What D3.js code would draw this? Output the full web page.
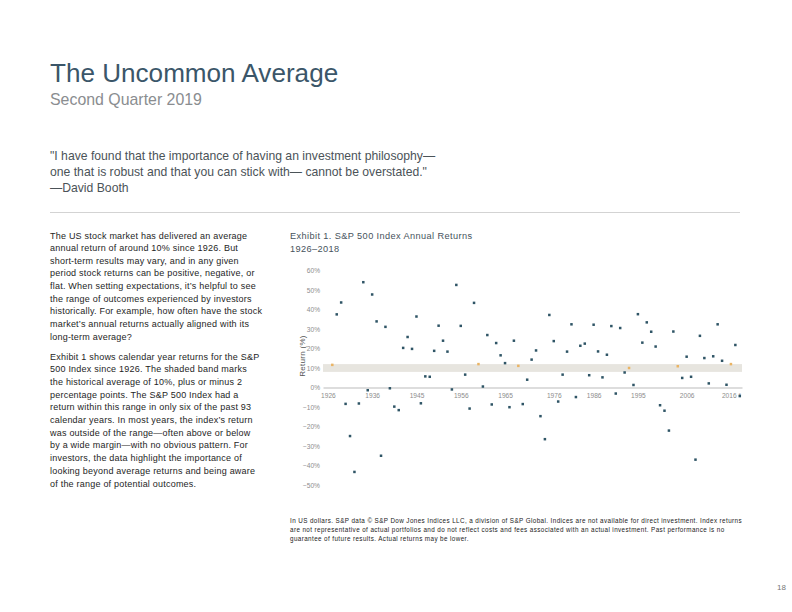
<!DOCTYPE html>
<html>
<head>
<meta charset="utf-8">
<script src="https://cdn.jsdelivr.net/npm/d3@7"></script>
<style>
  body { margin: 0; background: #fff; }
  svg { display: block; font-family: "Liberation Sans", Arial, sans-serif; }
</style>
</head>
<body>
<div id="page"></div>
<script>
// Calendar years shown in the exhibit
const years = [1926, 1927, 1928, 1929, 1930, 1931, 1932, 1933, 1934, 1935,
  1936, 1937, 1938, 1939, 1940, 1941, 1942, 1943, 1944, 1945,
  1946, 1947, 1948, 1949, 1950, 1951, 1952, 1953, 1954, 1955,
  1956, 1957, 1958, 1959, 1960, 1961, 1962, 1963, 1964, 1965,
  1966, 1967, 1968, 1969, 1970, 1971, 1972, 1973, 1974, 1975,
  1976, 1977, 1978, 1979, 1980, 1981, 1982, 1983, 1984, 1985,
  1986, 1987, 1988, 1989, 1990, 1991, 1992, 1993, 1994, 1995,
  1996, 1997, 1998, 1999, 2000, 2001, 2002, 2003, 2004, 2005,
  2006, 2007, 2008, 2009, 2010, 2011, 2012, 2013, 2014, 2015,
  2016, 2017, 2018];

// Annual return (%) for each year
const returns = [11.6, 37.5, 43.6, -8.4, -24.9, -43.3, -8.2, 54.0, -1.4, 47.7,
  33.9, -35.0, 31.1, -0.4, -9.8, -11.6, 20.3, 25.9, 19.8, 36.4,
  -8.1, 5.7, 5.5, 18.8, 31.7, 24.0, 18.4, -1.0, 52.6, 31.6,
  6.6, -10.8, 43.4, 12.0, 0.5, 26.9, -8.7, 22.8, 16.5, 12.5,
  -10.1, 24.0, 11.1, -8.5, 4.0, 14.3, 19.0, -14.7, -26.5, 37.2,
  23.8, -7.2, 6.6, 18.4, 32.4, -4.9, 21.4, 22.5, 6.3, 32.2,
  18.5, 5.2, 16.8, 31.5, -3.1, 30.5, 7.7, 10.0, 1.3, 37.6,
  23.0, 33.4, 28.6, 21.0, -9.1, -11.9, -22.1, 28.7, 10.9, 4.9,
  15.8, 5.5, -37.0, 26.5, 15.1, 2.1, 16.0, 32.4, 13.7, 1.4,
  12.0, 21.8, -4.4];

// Shaded band: historical average 10% plus or minus 2 points
const bandLow = 8;
const bandHigh = 12;

const yTicks = [60, 50, 40, 30, 20, 10, 0, -10, -20, -30, -40, -50];
const xTickYears = [1925, 1935, 1945, 1955, 1965, 1976, 1985, 1995, 2006, 2016];
const xTickLabels = ["1926", "1936", "1945", "1956", "1965", "1976", "1986", "1995", "2006", "2016 *"];

const quoteLines = [
  "\"I have found that the importance of having an investment philosophy\u2014",
  "one that is robust and that you can stick with\u2014 cannot be overstated.\"",
  "\u2014David Booth"
];

const para1 = [
  "The US stock market has delivered an average",
  "annual return of around 10% since 1926. But",
  "short-term results may vary, and in any given",
  "period stock returns can be positive, negative, or",
  "flat. When setting expectations, it\u2019s helpful to see",
  "the range of outcomes experienced by investors",
  "historically. For example, how often have the stock",
  "market\u2019s annual returns actually aligned with its",
  "long-term average?"
];

const para2 = [
  "Exhibit 1 shows calendar year returns for the S&P",
  "500 Index since 1926. The shaded band marks",
  "the historical average of 10%, plus or minus 2",
  "percentage points. The S&P 500 Index had a",
  "return within this range in only six of the past 93",
  "calendar years. In most years, the index\u2019s return",
  "was outside of the range\u2014often above or below",
  "by a wide margin\u2014with no obvious pattern. For",
  "investors, the data highlight the importance of",
  "looking beyond average returns and being aware",
  "of the range of potential outcomes."
];

const footLines = [
  "In US dollars. S&P data \u00a9 S&P Dow Jones Indices LLC, a division of S&P Global. Indices are not available for direct investment. Index returns",
  "are not representative of actual portfolios and do not reflect costs and fees associated with an actual investment. Past performance is no",
  "guarantee of future results. Actual returns may be lower."
];

const width = 792;
const height = 612;

const svg = d3.select("#page")
  .append("svg")
  .attr("width", width)
  .attr("height", height);

// Header
svg.append("text")
  .attr("x", 50).attr("y", 82)
  .attr("font-size", 26.1)
  .attr("fill", "#3b5669")
  .text("The Uncommon Average");

svg.append("text")
  .attr("x", 50).attr("y", 105)
  .attr("font-size", 15.9)
  .attr("fill", "#8a8d90")
  .text("Second Quarter 2019");

svg.selectAll(".quote")
  .data(quoteLines)
  .enter()
  .append("text")
  .attr("class", "quote")
  .attr("x", 50)
  .attr("y", (d, i) => 159.5 + i * 16.3)
  .attr("font-size", 12.2)
  .attr("fill", "#4b5358")
  .text(d => d);

svg.append("line")
  .attr("x1", 50).attr("x2", 740)
  .attr("y1", 212.5).attr("y2", 212.5)
  .attr("stroke", "#c8c8c8")
  .attr("stroke-width", 0.8);

// Left column text
svg.selectAll(".p1")
  .data(para1)
  .enter()
  .append("text")
  .attr("class", "p1")
  .attr("x", 50)
  .attr("y", (d, i) => 238.5 + i * 12.65)
  .attr("font-size", 9)
  .attr("letter-spacing", 0.22)
  .attr("fill", "#1e1e1e")
  .text(d => d);

svg.selectAll(".p2")
  .data(para2)
  .enter()
  .append("text")
  .attr("class", "p2")
  .attr("x", 50)
  .attr("y", (d, i) => 359.5 + i * 12.7)
  .attr("font-size", 9)
  .attr("letter-spacing", 0.22)
  .attr("fill", "#1e1e1e")
  .text(d => d);

// Exhibit title
svg.append("text")
  .attr("x", 290).attr("y", 239)
  .attr("font-size", 9.2)
  .attr("letter-spacing", 0.4)
  .attr("fill", "#46525c")
  .text("Exhibit 1. S&P 500 Index Annual Returns");

svg.append("text")
  .attr("x", 290).attr("y", 251.5)
  .attr("font-size", 9.2)
  .attr("letter-spacing", 0.4)
  .attr("fill", "#46525c")
  .text("1926\u20132018");

// Scales
const x = d3.scaleLinear()
  .domain([1923.9, 2018.5])
  .range([323, 742]);

const y = d3.scaleLinear()
  .domain([-50, 60])
  .range([485, 270.5]);

const chart = svg.append("g");

// Band
chart.append("rect")
  .attr("x", x.range()[0])
  .attr("width", x.range()[1] - x.range()[0])
  .attr("y", y(bandHigh))
  .attr("height", y(bandLow) - y(bandHigh))
  .attr("fill", "#e7e5df");

// Y tick labels (no axis line)
const yAxis = d3.axisLeft(y)
  .tickValues(yTicks)
  .tickSize(0)
  .tickPadding(0)
  .tickFormat(d => (d < 0 ? "\u2212" + Math.abs(d) : d) + "%");

chart.append("g")
  .attr("transform", "translate(320,0)")
  .call(yAxis)
  .call(g => g.select(".domain").remove())
  .call(g => g.selectAll("text")
    .attr("font-family", "'Liberation Sans Narrow', 'Liberation Sans', sans-serif")
    .attr("font-size", 6.6)
    .attr("fill", "#8d8d8d"));

// X axis at 0%
const xAxis = d3.axisBottom(x)
  .tickValues(xTickYears)
  .tickSize(0)
  .tickPadding(6)
  .tickFormat((d, i) => xTickLabels[i]);

chart.append("g")
  .attr("transform", `translate(0,${y(0)})`)
  .call(xAxis)
  .call(g => g.select(".domain").attr("stroke", "#a9a9a9").attr("stroke-width", 0.8))
  .call(g => g.selectAll("text")
    .attr("font-family", "'Liberation Sans Narrow', 'Liberation Sans', sans-serif")
    .attr("font-size", 6.6)
    .attr("fill", "#8d8d8d"));

// Y axis title
svg.append("text")
  .attr("transform", `translate(305,${y(10) - 12}) rotate(-90)`)
  .attr("text-anchor", "middle")
  .attr("font-size", 8)
  .attr("letter-spacing", 0.3)
  .attr("fill", "#555")
  .text("Return (%)");

// Points
const pts = years.map((yr, i) => ({ year: yr, value: returns[i] }));
const size = 2.5;

chart.selectAll(".pt")
  .data(pts)
  .enter()
  .append("rect")
  .attr("class", "pt")
  .attr("x", d => x(d.year) - size / 2)
  .attr("y", d => y(d.value) - size / 2)
  .attr("width", size)
  .attr("height", size)
  .attr("fill", d => (d.value >= bandLow && d.value <= bandHigh) ? "#eab464" : "#2f5566");

// Footnote
svg.selectAll(".foot")
  .data(footLines)
  .enter()
  .append("text")
  .attr("class", "foot")
  .attr("x", 290)
  .attr("y", (d, i) => 523 + i * 9)
  .attr("font-size", 6.3)
  .attr("letter-spacing", 0.4)
  .attr("fill", "#222")
  .text(d => d);

// Page number
svg.append("text")
  .attr("x", 786).attr("y", 590)
  .attr("text-anchor", "end")
  .attr("font-size", 8)
  .attr("fill", "#777")
  .text("18");
</script>
</body>
</html>
